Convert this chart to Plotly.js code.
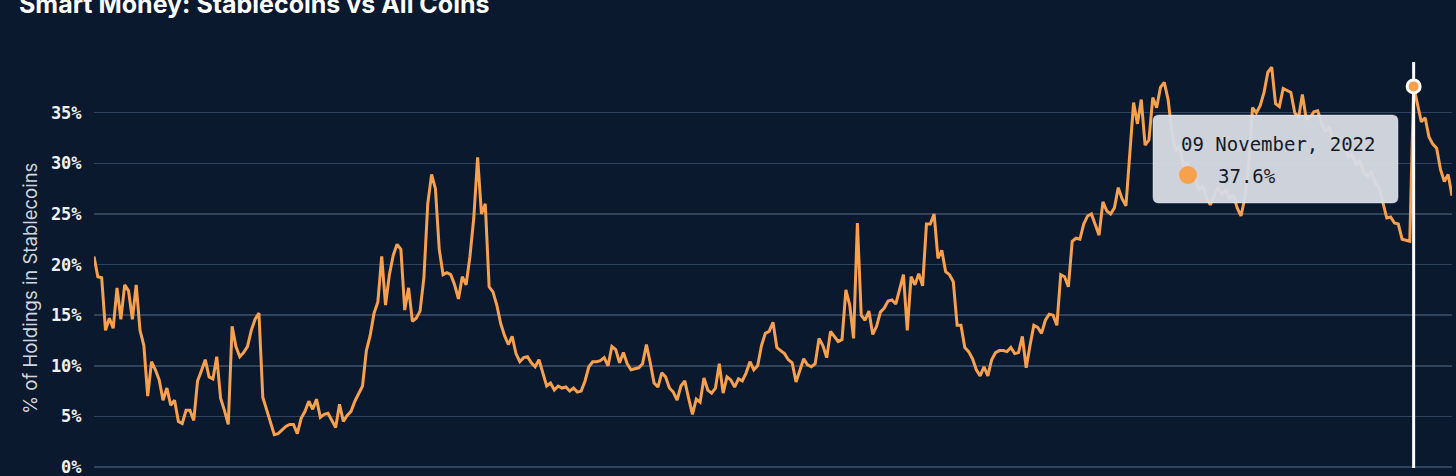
<!DOCTYPE html>
<html>
<head>
<meta charset="utf-8">
<script src="https://cdn.plot.ly/plotly-3.0.1.min.js"></script>
<style>
  html, body { margin: 0; padding: 0; background: #0a192e; }
  #chart { width: 1456px; height: 476px; }
</style>
</head>
<body>
<div id="chart"></div>
<script>
// ---- Data: % of smart-money holdings in stablecoins, one reading every 4 days from 2019-02-02 ----
const seriesStart = '2019-02-02';
const stepDays = 4;

const share2019 = [20.8, 18.8, 18.7, 13.5, 14.7, 13.7, 17.7, 14.6, 18.0, 17.4,
  14.6, 18.0, 13.5, 12.0, 7.0, 10.4, 9.6, 8.6, 6.6, 7.8,
  6.1, 6.6, 4.5, 4.3, 5.6, 5.6, 4.6, 8.5, 9.5, 10.6,
  8.9, 8.7, 10.9, 6.8, 5.6, 4.2, 13.9, 11.9, 10.9, 11.3,
  11.9, 13.5, 14.6, 15.2, 6.9, 5.6, 4.4, 3.2, 3.3, 3.7,
  4.0, 4.2, 4.2, 3.3, 4.8, 5.5, 6.5, 5.7, 6.7, 4.9,
  5.2, 5.3, 4.6, 3.9, 6.2, 4.5, 5.1, 5.5, 6.5, 7.3,
  8.0, 11.5, 13.0, 15.2, 16.3, 20.8, 16.0, 19.0, 20.9, 22.0,
  21.5, 15.5, 17.7, 14.4];

const share2020 = [14.7, 15.4, 18.7, 26.0, 28.9, 27.5, 21.5, 19.0, 19.2, 19.0,
  18.0, 16.6, 18.8, 18.0, 20.8, 24.6, 30.6, 25.0, 26.0, 17.8,
  17.3, 16.0, 14.2, 13.0, 12.1, 12.9, 11.2, 10.4, 10.8, 10.9,
  10.3, 9.9, 10.6, 9.3, 8.0, 8.3, 7.6, 8.0, 7.8, 7.9,
  7.5, 7.8, 7.4, 7.5, 8.5, 9.9, 10.4, 10.4, 10.5, 10.8,
  10.0, 11.9, 11.6, 10.3, 11.3, 10.2, 9.6, 9.7, 9.8, 10.2,
  12.1, 10.3, 8.3, 7.9, 9.3, 8.9, 7.8, 7.4, 6.6, 8.0,
  8.5, 6.8, 5.2, 6.7, 6.4, 8.8, 7.6, 7.3, 7.8, 10.2,
  7.3, 8.9, 8.6, 7.9, 8.7, 8.5, 9.3, 10.4, 9.6, 10.0,
  12.0];

const share2021 = [13.2, 13.4, 14.3, 11.8, 11.5, 11.2, 10.6, 10.3, 8.4, 9.6,
  10.7, 10.1, 9.9, 10.2, 12.7, 12.0, 10.8, 13.4, 12.9, 12.4,
  12.6, 17.5, 16.0, 12.7, 24.1, 15.0, 14.5, 15.4, 13.1, 13.9,
  15.3, 15.7, 16.4, 16.5, 16.1, 17.6, 19.0, 13.5, 18.8, 18.0,
  19.1, 17.9, 24.0, 24.0, 25.0, 20.6, 21.4, 19.3, 19.0, 18.3,
  14.0, 14.0, 11.8, 11.4, 10.7, 9.6, 9.0, 9.9, 9.0, 10.6,
  11.3, 11.5, 11.5, 11.4, 11.8, 11.2, 11.3, 12.9, 9.8, 12.0,
  14.0, 13.8, 13.2, 14.5, 15.1, 15.0, 14.0, 19.0, 18.8, 17.8,
  22.3, 22.6, 22.5, 24.0, 24.8, 25.0, 24.0, 22.9, 26.2, 25.3,
  25.0];

const share2022 = [25.6, 27.6, 26.5, 25.8, 31.0, 36.0, 33.9, 36.3, 31.8, 32.3,
  36.5, 35.5, 37.5, 38.0, 36.3, 33.0, 31.2, 31.8, 29.7, 30.1,
  28.3, 28.8, 27.3, 27.8, 26.6, 25.9, 26.8, 27.6, 26.9, 27.4,
  26.5, 26.9, 25.6, 24.8, 26.6, 29.8, 35.5, 35.0, 35.7, 37.0,
  39.0, 39.5, 35.9, 35.6, 37.4, 37.2, 37.0, 35.0, 34.5, 36.8,
  34.4, 34.5, 35.1, 35.2, 34.0, 33.1, 33.6, 32.2, 32.7, 31.4,
  31.9, 30.6, 30.9, 29.8, 30.3, 29.1, 28.7, 29.2, 28.0, 27.6,
  26.2, 24.6, 24.7, 24.1, 24.0, 22.5, 22.4, 22.3, 37.6, 36.0,
  34.1, 34.5, 32.6, 31.9, 31.5, 29.4, 28.2, 28.9, 26.8];

const yTickValues = [0, 5, 10, 15, 20, 25, 30, 35];
const yTickLabels = ['0%', '5%', '10%', '15%', '20%', '25%', '30%', '35%'];

const chartTitle = 'Smart Money: Stablecoins vs All Coins';
const yTitle = '% of Holdings in Stablecoins';
const hoverDate = '2022-11-09';
const monthNames = ['January','February','March','April','May','June','July','August','September','October','November','December'];

// ---- Build ----
const values = [].concat(share2019, share2020, share2021, share2022);
const t0 = Date.parse(seriesStart + 'T00:00:00Z');
const dates = values.map((_, i) => new Date(t0 + i * stepDays * 86400000).toISOString().slice(0, 10));
const hoverIdx = dates.indexOf(hoverDate);
const hoverValue = values[hoverIdx];
const hd = new Date(hoverDate + 'T00:00:00Z');
const hoverLabel = String(hd.getUTCDate()).padStart(2, '0') + ' ' + monthNames[hd.getUTCMonth()] + ', ' + hd.getUTCFullYear();

const W = 1456, H = 476, ML = 94, MR = 4, MT = 52, MB = 8;
const PW = W - ML - MR, PH = H - MT - MB;
const px2x = p => (p - ML) / PW;
const px2y = p => (H - MB - p) / PH;

const ORANGE = '#f7a04e';
const BG = '#0a192e';
const GRID = 'rgba(95,120,148,0.45)';

function roundRect(l, t, r, b, rad) {
  const x0 = px2x(l), x1 = px2x(r), yT = px2y(t), yB = px2y(b), rx = rad / PW, ry = rad / PH;
  return `M ${x0 + rx},${yT} L ${x1 - rx},${yT} Q ${x1},${yT} ${x1},${yT - ry} ` +
         `L ${x1},${yB + ry} Q ${x1},${yB} ${x1 - rx},${yB} L ${x0 + rx},${yB} ` +
         `Q ${x0},${yB} ${x0},${yB + ry} L ${x0},${yT - ry} Q ${x0},${yT} ${x0 + rx},${yT} Z`;
}

const traces = [
  { x: dates, y: values, type: 'scatter', mode: 'lines',
    line: { color: ORANGE, width: 3 }, hoverinfo: 'skip' },
  { x: [hoverDate, hoverDate], y: [-0.1, 40], type: 'scatter', mode: 'lines',
    line: { color: '#ffffff', width: 3 }, hoverinfo: 'skip', cliponaxis: false },
  { x: [hoverDate], y: [hoverValue], type: 'scatter', mode: 'markers',
    marker: { size: 13, color: ORANGE, line: { color: '#ffffff', width: 3 } },
    hoverinfo: 'skip', cliponaxis: false }
];

const layout = {
  width: W, height: H,
  margin: { l: ML, r: MR, t: MT, b: MB },
  paper_bgcolor: BG, plot_bgcolor: BG,
  showlegend: false,
  xaxis: { type: 'date', range: [dates[0], dates[dates.length - 1]],
    showgrid: false, showticklabels: false, zeroline: false, showline: false, ticks: '' },
  yaxis: { range: [-0.1, 41], tickvals: yTickValues, ticktext: yTickLabels,
    showgrid: true, gridcolor: GRID, gridwidth: 1.5,
    zeroline: true, zerolinecolor: GRID, zerolinewidth: 1.5, showline: false,
    ticks: 'outside', ticklen: 8, tickcolor: 'rgba(0,0,0,0)', ticklabeloverflow: 'allow',
    tickfont: { family: 'DejaVu Sans Mono', size: 17, color: '#eef1f5', weight: 700 } },
  shapes: [
    { type: 'path', xref: 'paper', yref: 'paper', layer: 'above',
      path: roundRect(1153, 115, 1398, 203, 6),
      fillcolor: 'rgba(214,219,227,0.96)', line: { color: 'rgba(255,255,255,0.4)', width: 1 } },
    { type: 'circle', xref: 'paper', yref: 'paper', layer: 'above',
      x0: px2x(1179), x1: px2x(1197), y0: px2y(184), y1: px2y(166),
      fillcolor: ORANGE, line: { width: 0 } }
  ],
  annotations: [
    { text: chartTitle, xref: 'paper', yref: 'paper', x: px2x(17), y: px2y(4),
      xanchor: 'left', yanchor: 'middle', showarrow: false,
      font: { family: 'Inter', size: 25, color: '#ffffff', weight: 700 } },
    { text: yTitle, xref: 'paper', yref: 'paper', x: px2x(30), y: px2y(289),
      xanchor: 'center', yanchor: 'middle', textangle: -90, showarrow: false,
      font: { family: 'Inter', size: 18.5, color: '#cfd6df' } },
    { text: hoverLabel, xref: 'paper', yref: 'paper', x: px2x(1179), y: px2y(144),
      xanchor: 'left', yanchor: 'middle', showarrow: false,
      font: { family: 'DejaVu Sans Mono', size: 19, color: '#141a28' } },
    { text: hoverValue.toFixed(1) + '%', xref: 'paper', yref: 'paper', x: px2x(1216), y: px2y(176),
      xanchor: 'left', yanchor: 'middle', showarrow: false,
      font: { family: 'DejaVu Sans Mono', size: 19, color: '#141a28' } }
  ]
};

Plotly.newPlot('chart', traces, layout, { staticPlot: true, displayModeBar: false });
</script>
</body>
</html>
